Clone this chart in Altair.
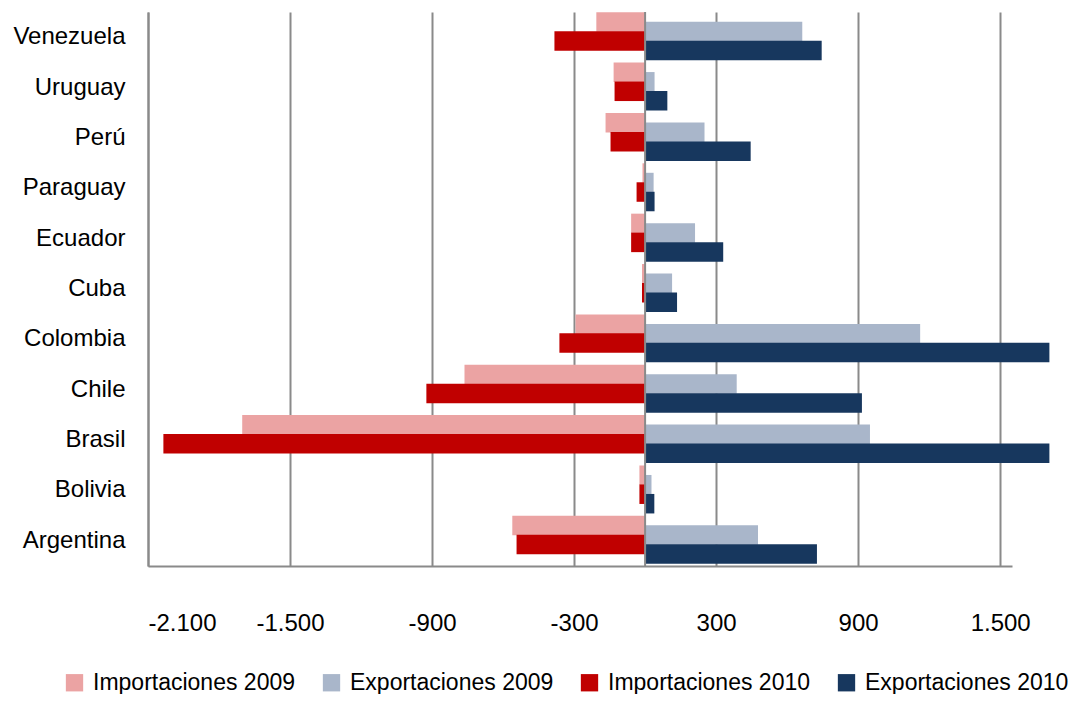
import altair as alt
import pandas as pd

paises = ["Venezuela", "Uruguay", "Perú", "Paraguay", "Ecuador", "Cuba",
          "Colombia", "Chile", "Brasil", "Bolivia", "Argentina"]
series = ["Importaciones 2009", "Exportaciones 2009", "Importaciones 2010", "Exportaciones 2010"]
imp2009 = [-206, -133, -167, -11, -59, -13, -294, -763, -1702, -24, -561]
exp2009 = [664, 40, 251, 36, 211, 114, 1162, 387, 950, 27, 477]
imp2010 = [-383, -129, -146, -36, -59, -13, -362, -924, -2035, -24, -543]
exp2010 = [746, 94, 446, 40, 330, 135, 1708, 916, 1708, 39, 726]
ticks = [-2100, -1500, -900, -300, 300, 900, 1500]
colores = ["#EBA3A3", "#A9B6CA", "#C00000", "#17375E"]

rows = []
for s, vals in zip(series, [imp2009, exp2009, imp2010, exp2010]):
    for p, v in zip(paises, vals):
        rows.append({"pais": p, "serie": s, "valor": v})
df = pd.DataFrame(rows)

FONT = "Liberation Sans, Arial, sans-serif"
GRAY = "#8A8A8A"
FS = 24

bars = alt.Chart(df).mark_bar(height=19.5).encode(
    y=alt.Y("pais:N", sort=paises, title=None,
            scale=alt.Scale(paddingInner=0, paddingOuter=0),
            axis=alt.Axis(labelFontSize=FS, labelFont=FONT, labelColor="black",
                          labelPadding=23, ticks=False, domainColor=GRAY,
                          domainWidth=2, grid=False, labelOverlap=False)),
    yOffset=alt.YOffset("serie:N", sort=series,
                        scale=alt.Scale(paddingInner=0, paddingOuter=0.653, align=0.42)),
    x=alt.X("valor:Q", stack=None, title=None,
            scale=alt.Scale(domain=[-2100, 1550], nice=False, zero=False),
            axis=alt.Axis(values=ticks, labelFontSize=FS, labelFont=FONT,
                          labelColor="black", labelPadding=45, ticks=False,
                          labelOverlap=False,
                          labelExpr="replace(replace(format(datum.value, ','), ',', '.'), '\u2212', '-')",
                          domainColor=GRAY, domainWidth=2,
                          grid=True, gridColor=GRAY, gridWidth=2)),
    color=alt.Color("serie:N", sort=series,
                    scale=alt.Scale(domain=series, range=colores),
                    legend=alt.Legend(title=None, orient="none", legendX=-85, legendY=659,
                                      direction="horizontal", columns=4,
                                      symbolType="square", symbolSize=300,
                                      symbolStrokeWidth=0, labelFontSize=23,
                                      labelFont=FONT, labelColor="black",
                                      labelLimit=0, labelOffset=7,
                                      columnPadding=24, padding=0)),
)

zero = alt.Chart(pd.DataFrame({"v": [0]})).mark_rule(color=GRAY, strokeWidth=2).encode(
    x=alt.X("v:Q")
)

chart = alt.layer(bars, zero).properties(
    width=864, height=554,
    autosize=alt.AutoSizeParams(type="none"),
    padding={"left": 140, "top": 4, "right": 65, "bottom": 128},
    background="white",
).configure_view(strokeOpacity=0, strokeWidth=0)

chart.save("out.html", embed_options={"renderer": "svg", "actions": False})
